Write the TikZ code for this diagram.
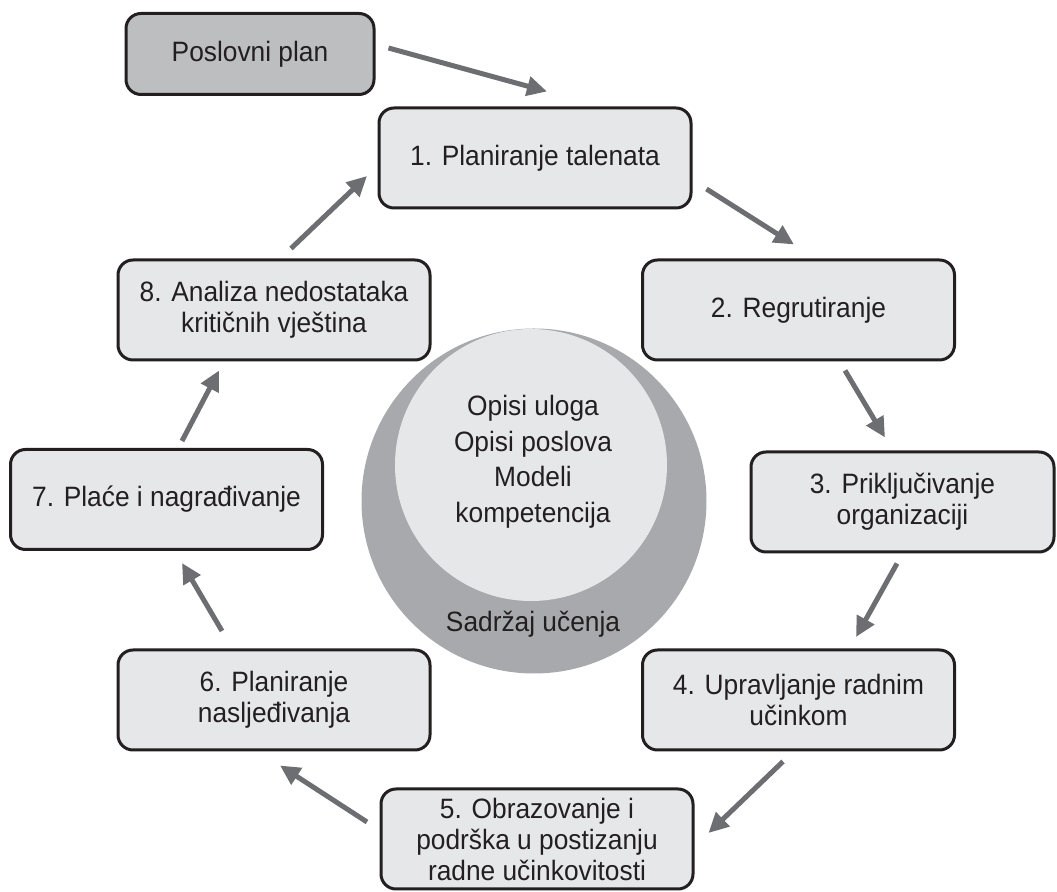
\documentclass[tikz,border=0pt]{standalone}
\usepackage{fontspec}
\setmainfont[FakeStretch=0.94]{Liberation Sans}
\usepackage{xcolor}
\usepackage{tikz}
\usetikzlibrary{arrows.meta,positioning,calc}
\definecolor{boxfill}{HTML}{E6E7E8}
\definecolor{planfill}{HTML}{BCBEC0}
\definecolor{ringgray}{HTML}{A7A9AC}
\definecolor{arrowgray}{HTML}{6D6E71}
\definecolor{inkdark}{HTML}{231F20}
\tikzset{
  stage/.style={draw=inkdark, fill=boxfill, rounded corners=7.5pt, line width=1.5pt,
                minimum width=156pt, minimum height=50pt, align=center,
                font=\fontsize{14}{15.5}\selectfont, text=inkdark, inner sep=3pt},
  plan/.style={stage, fill=planfill, minimum width=124pt, minimum height=40.5pt},
  ring/.style={circle, fill=ringgray, minimum size=172.5pt, inner sep=0pt},
  core/.style={circle, fill=boxfill, minimum size=136pt, inner sep=0pt},
  lbl/.style={align=center, text=inkdark, font=\fontsize{14}{17.75}\selectfont},
  flow/.style={-{Triangle[length=10pt,width=9.5pt]}, line width=2.5pt, draw=arrowgray}
}
\begin{document}
\begin{tikzpicture}[x=0.5pt,y=-0.5pt]
  \useasboundingbox (0,0) rectangle (1057,892);

  % learning content in the middle
  \node[ring] (ring) at (534,501) {};
  \node[core] (core) at (531,465) {};
  \node[lbl] (roles) at (533,462) {Opisi uloga\\Opisi poslova\\Modeli\\kompetencija};
  \node[lbl] (content) at (533,624) {Sadržaj učenja};

  % the cycle
  \node[plan] (pp) at (250,54) {Poslovni plan};
  \node[stage] (b1) at (535,158) {1. Planiranje talenata};
  \node[stage] (b2) at (798.5,310) {2. Regrutiranje};
  \node[stage, minimum width=151.5pt] (b3) at (902.5,502) {3. Priključivanje\\organizaciji};
  \node[stage] (b4) at (798.5,700) {4. Upravljanje radnim\\učinkom};
  \node[stage] (b5) at (537,839) {5. Obrazovanje i\\podrška u postizanju\\radne učinkovitosti};
  \node[stage] (b6) at (274,700) {6. Planiranje\\nasljeđivanja};
  \node[stage] (b7) at (166.5,499.5) {7. Plaće i nagrađivanje};
  \node[stage] (b8) at (274,310) {8. Analiza nedostataka\\kritičnih vještina};

  \draw[flow] ($(pp.east)+(13,-6)$) -- ($(b1.north)+(12,-15)$);
  \draw[flow] ($(b1.east)+(14,31)$) -- ($(b2.north)+(-4.5,-14)$);
  \draw[flow] ($(b2.south)+(46.5,9)$) -- ($(b3.north)+(-17.5,-13)$);
  \draw[flow] ($(b3.south)+(-5.5,10)$) -- ($(b4.north)+(57.5,-11.5)$);
  \draw[flow] ($(b4.south)+(-15.5,10)$) -- ($(b5.east)+(14,-6)$);
  \draw[flow] ($(b5.west)+(-12.5,-17)$) -- ($(b6.south)+(6,14)$);
  \draw[flow] ($(b6.north)+(-52,-17.5)$) -- ($(b7.south)+(15.5,12)$);
  \draw[flow] ($(b7.north)+(15.5,-7)$) -- ($(b8.south)+(-55,9)$);
  \draw[flow] ($(b8.north)+(17,-10)$) -- ($(b1.west)+(-10.5,18)$);
\end{tikzpicture}
\end{document}
